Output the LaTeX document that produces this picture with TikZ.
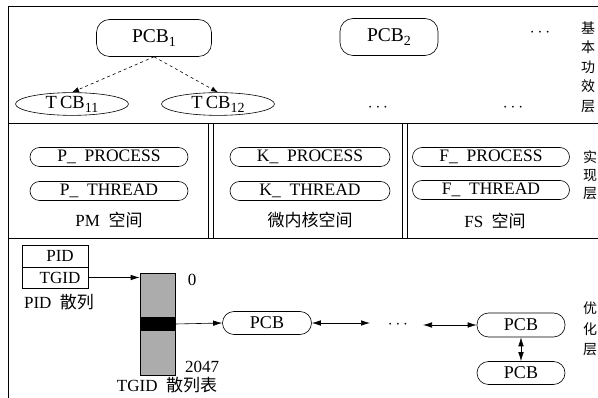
\documentclass[tikz,border=0pt]{standalone}
\usepackage{fontspec}
\setmainfont{Liberation Serif}
\newfontfamily\cjk{Noto Sans CJK SC}
\usetikzlibrary{shapes.geometric,arrows.meta}
\tikzset{
  every node/.style={font=\fontsize{17}{19}\selectfont, inner sep=0pt},
  pcbbox/.style={draw, rounded corners=13pt, minimum width=115pt, minimum height=37pt, font=\fontsize{19.5}{21}\selectfont},
  tcbell/.style={draw, ellipse, minimum width=113pt, minimum height=22pt, font=\fontsize{18.5}{20}\selectfont},
  stad/.style={draw, rounded corners=9.5pt, minimum width=158pt, minimum height=19pt, font=\fontsize{17.5}{19}\selectfont},
  pstad/.style={draw, rounded corners=11.5pt, minimum width=88pt, minimum height=23pt, font=\fontsize{18}{19}\selectfont},
  frame/.style={line width=0.8pt},
  arr/.style={-{Latex[length=9pt,width=5.5pt]}, line width=0.6pt},
  darr/.style={{Latex[length=9pt,width=5.5pt]}-{Latex[length=9pt,width=5.5pt]}, line width=0.6pt},
  dasharr/.style={-{Latex[length=7pt,width=5pt]}, dashed, line width=0.6pt},
  vlabel/.style={align=center, font=\cjk\fontsize{14}{19.5}\selectfont}
}
\newcommand{\mysub}[1]{\raisebox{-0.45ex}{\fontsize{14}{14}\selectfont #1}}
\begin{document}
\begin{tikzpicture}[x=1pt, y=-1pt, line width=0.6pt]
\useasboundingbox (0,0) rectangle (598,398);
% frame
\draw[frame] (598,6) -- (8,6) -- (8,398);
\draw[frame] (8,123) -- (598,123);
\draw[frame] (8,238) -- (598,238);
\draw[frame] (208,123) -- (208,238);
\draw[frame] (213,123) -- (213,238);
\draw[frame] (402,123) -- (402,238);
\draw[frame] (407,123) -- (407,238);

% top layer
\node[pcbbox] (pcb1) at (154,38) {PCB\mysub{1}};
\node[pcbbox, minimum width=98pt] (pcb2) at (389,37) {PCB\mysub{2}};
\node (d1) at (540,33) {$\cdots$};
\node[tcbell] (tcb11) at (72,104) {T\,CB\mysub{11}};
\node[tcbell] (tcb12) at (218,104) {T\,CB\mysub{12}};
\node (d2) at (378,108) {$\cdots$};
\node (d3) at (513,108) {$\cdots$};
\draw[dasharr] (pcb1.south) -- (tcb11.north);
\draw[dasharr] (pcb1.south) -- (tcb12.north);
\node[vlabel] (l1) at (588,67) {基\\本\\功\\效\\层};

% middle layer
\node[stad] (pproc) at (109,157) {P\_\ \ PROCESS};
\node[stad] (pthr) at (109,191) {P\_\ \ THREAD};
\node (pm) at (109,220) {PM\ \ {\cjk 空间}};
\node[stad, minimum width=160pt] (kproc) at (310,157) {K\_\ \ PROCESS};
\node[stad, minimum width=160pt] (kthr) at (310,191) {K\_\ \ THREAD};
\node (km) at (310,220) {\cjk 微内核空间};
\node[stad, minimum width=157pt] (fproc) at (491,157) {F\_\ \ PROCESS};
\node[stad, minimum width=157pt] (fthr) at (491,190) {F\_\ \ THREAD};
\node (fs) at (495,221) {FS\ \ {\cjk 空间}};
\node[vlabel, font=\cjk\fontsize{14}{18}\selectfont] (l2) at (590,175) {实\\现\\层};

% bottom layer
\node[draw, minimum width=66pt, minimum height=22pt] (pid) at (55,256) {\hspace{10pt}PID};
\node[draw, minimum width=66pt, minimum height=21pt] (tgid) at (55,277.5) {\hspace{10pt}TGID};
\node (pidl) at (59,302) {PID\ \ {\cjk 散列}};
\node[draw, fill=gray!65, minimum width=35pt, minimum height=102pt] (tbl) at (157.5,324) {};
\node[fill=black, minimum width=35pt, minimum height=14pt] (band) at (157.5,324) {};
\node (n0) at (192,280) {0};
\node (n2047) at (202,367) {2047};
\node (tgl) at (167,385) {TGID\ \ {\cjk 散列表}};
\draw[arr] (tgid.east) -- (tgid.east -| tbl.west);
\node[pstad, minimum width=89pt] (pcba) at (267,323) {PCB};
\draw[arr] (band.east) -- (pcba.west);
\coordinate (c1) at (370,323);
\node (d4) at (398,325) {$\cdots$};
\coordinate (c2) at (423,325);
\node[pstad, minimum height=24pt] (pcbb) at (521,325) {PCB};
\node[pstad] (pcbc) at (521,373) {PCB};
\draw[darr] (pcba.east) -- (c1);
\draw[darr] (c2) -- (pcbb.west);
\draw[darr] (pcbb.south) -- (pcbc.north);
\node[vlabel, font=\cjk\fontsize{14}{20.5}\selectfont] (l3) at (590,329) {优\\化\\层};
\end{tikzpicture}
\end{document}
